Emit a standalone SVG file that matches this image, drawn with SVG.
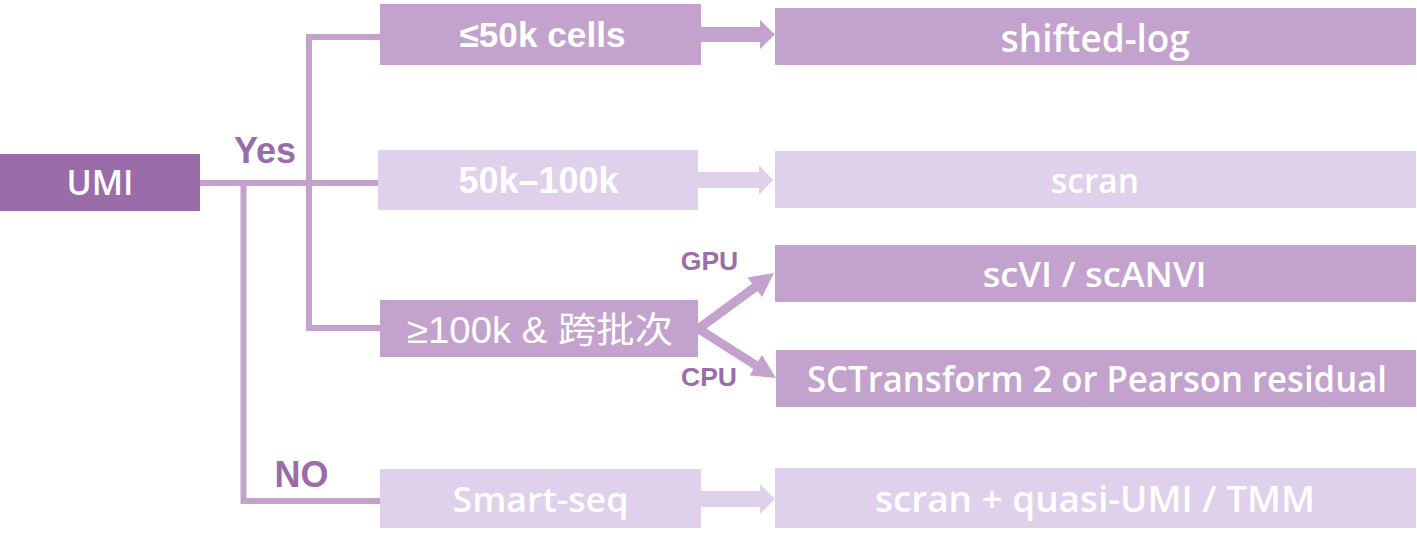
<svg xmlns="http://www.w3.org/2000/svg" width="1417" height="544" viewBox="0 0 1417 544">
<style>
.bg{fill:#ffffff}
.dark{fill:#9A6DAA}
.mid{fill:#C3A3CD}
.light{fill:#DFD0EC}
.ln{fill:none;stroke:#C3A3CD;stroke-width:6;stroke-linejoin:miter;stroke-linecap:butt}
.sh{fill:none;stroke:#C3A3CD;stroke-width:9;stroke-linecap:butt}
.ah{fill:#C3A3CD}
.ahl{fill:#DFD0EC}
.t{font-family:"Liberation Sans",Arial,sans-serif;font-weight:bold;fill:#ffffff;text-anchor:middle}
.y{font-family:"Open Sans","Liberation Sans",sans-serif;font-weight:600;fill:#ffffff;text-anchor:middle}
.cjk{font-family:"Liberation Sans","Noto Sans CJK SC",sans-serif;font-weight:normal;fill:#ffffff;text-anchor:middle}
.lbl{font-family:"Liberation Sans",Arial,sans-serif;font-weight:bold;fill:#9A6DAA;text-anchor:middle}
</style>
<rect class="bg" x="0" y="0" width="1417" height="544"/>
<g id="connectors">
  <path class="ln" d="M200 183 H380"/>
  <path class="ln" d="M243.5 183 V501 H380"/>
  <path class="ln" d="M380 37 H309 V328 H380"/>
  <polygon class="ah" points="701,27 760,27 760,20 775,34.5 760,49 760,42 701,42"/>
  <polygon class="ahl" points="698,172 759,172 759,165 773,180 759,195 759,188 698,188"/>
  <polygon class="ahl" points="701,491 760,491 760,484 775,499 760,514 760,507 701,507"/>
  <line class="sh" x1="694" y1="332" x2="756" y2="286.5"/>
  <polygon class="ah" points="774,273 762,297 747.5,277.5"/>
  <line class="sh" x1="694" y1="326" x2="757" y2="366"/>
  <polygon class="ah" points="776,378 749.5,375.5 762,355"/>
</g>
<g id="node-umi">
  <rect class="dark" x="0" y="154" width="200" height="57"/>
  <text class="y" x="100" y="195" font-size="35" textLength="67" lengthAdjust="spacingAndGlyphs">UMI</text>
</g>
<g id="label-yes"><text class="lbl" x="265" y="163" font-size="36">Yes</text></g>
<g id="label-no"><text class="lbl" x="301.5" y="487" font-size="36">NO</text></g>
<g id="label-gpu"><text class="lbl" x="709.5" y="270" font-size="26.5">GPU</text></g>
<g id="label-cpu"><text class="lbl" x="709" y="386" font-size="26.5">CPU</text></g>
<g id="node-le50k">
  <rect class="mid" x="380" y="4" width="321" height="61"/>
  <text class="t" x="542.5" y="47" font-size="35" textLength="166" lengthAdjust="spacingAndGlyphs">≤50k cells</text>
</g>
<g id="node-50k100k">
  <rect class="light" x="378" y="150" width="320" height="60"/>
  <text class="t" x="538.5" y="193" font-size="36" textLength="160" lengthAdjust="spacingAndGlyphs">50k–100k</text>
</g>
<g id="node-ge100k">
  <rect class="mid" x="380" y="300" width="318" height="57"/>
  <text class="cjk" x="540" y="343" font-size="36" textLength="266" lengthAdjust="spacingAndGlyphs">≥100k &amp; 跨批次</text>
</g>
<g id="node-smartseq">
  <rect class="light" x="380" y="469" width="321" height="59"/>
  <text class="y" x="540.5" y="511.5" font-size="35" textLength="176" lengthAdjust="spacingAndGlyphs">Smart-seq</text>
</g>
<g id="node-shiftedlog">
  <rect class="mid" x="775" y="8" width="641" height="57"/>
  <text class="y" x="1095.3" y="52" font-size="37" textLength="189" lengthAdjust="spacingAndGlyphs">shifted-log</text>
</g>
<g id="node-scran">
  <rect class="light" x="775" y="151" width="641" height="57"/>
  <text class="y" x="1095" y="193" font-size="35" textLength="88" lengthAdjust="spacingAndGlyphs">scran</text>
</g>
<g id="node-scvi">
  <rect class="mid" x="775" y="245" width="641" height="57"/>
  <text class="y" x="1094.7" y="287" font-size="34" textLength="224" lengthAdjust="spacingAndGlyphs">scVI / scANVI</text>
</g>
<g id="node-sctransform">
  <rect class="mid" x="776" y="350" width="640" height="57"/>
  <text class="y" x="1097" y="392" font-size="36" textLength="580" lengthAdjust="spacingAndGlyphs">SCTransform 2 or Pearson residual</text>
</g>
<g id="node-scranquasi">
  <rect class="light" x="775" y="468" width="641" height="60"/>
  <text class="y" x="1095" y="512" font-size="36" textLength="440" lengthAdjust="spacingAndGlyphs">scran + quasi-UMI / TMM</text>
</g>
</svg>
